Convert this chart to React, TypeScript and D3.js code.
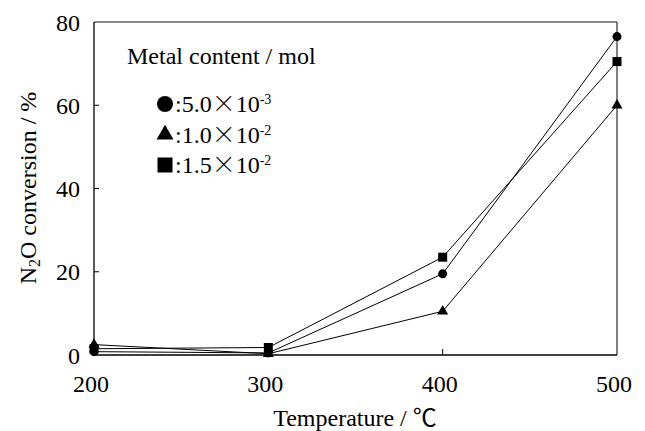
import React from "react";
import * as d3 from "d3";

// temperatures (°C) and N2O conversion (%)
const temperatures = [200, 300, 400, 500];
const circleSeries = [0.8, 0.5, 19.5, 76.5]; // 5.0×10-3 mol
const triangleSeries = [2.5, 0.3, 10.5, 60]; // 1.0×10-2 mol
const squareSeries = [1.5, 1.8, 23.5, 70.5]; // 1.5×10-2 mol
const xTicks = [200, 300, 400, 500];
const yTicks = [0, 20, 40, 60, 80];
const legendLabels = [
  { mark: "circle", mant: "5.0", exp: "-3" },
  { mark: "triangle", mant: "1.0", exp: "-2" },
  { mark: "square", mant: "1.5", exp: "-2" },
];

const W = 645;
const H = 431;
const margin = { top: 22, right: 28, bottom: 76, left: 94 };
const FONT = '"Liberation Serif", "Times New Roman", "DejaVu Serif", serif';
const CJK = '"Noto Sans CJK JP", "Noto Sans CJK SC", sans-serif';

const App = () => {
  const x = d3
    .scaleLinear()
    .domain([200, 500])
    .range([margin.left, W - margin.right]);
  const y = d3
    .scaleLinear()
    .domain([0, 80])
    .range([H - margin.bottom, margin.top]);

  const line = d3
    .line<number>()
    .x((_, i) => x(temperatures[i]))
    .y((d) => y(d));

  const series = [
    { name: "circle", values: circleSeries },
    { name: "triangle", values: triangleSeries },
    { name: "square", values: squareSeries },
  ];

  const marker = (kind: string, cx: number, cy: number, s: number, key: any) => {
    if (kind === "circle") return <circle key={key} cx={cx} cy={cy} r={s / 2} fill="#000" />;
    if (kind === "square")
      return <rect key={key} x={cx - s / 2} y={cy - s / 2} width={s} height={s} fill="#000" />;
    const h = (s * Math.sqrt(3)) / 2;
    return (
      <path
        key={key}
        d={`M${cx},${cy - (2 * h) / 3}L${cx + s / 2},${cy + h / 3}L${cx - s / 2},${cy + h / 3}Z`}
        fill="#000"
      />
    );
  };

  const x0 = x(200);
  const x1 = x(500);
  const y0 = y(0);
  const y1 = y(80);

  return (
    <svg
      width={W}
      height={H}
      style={{ position: "absolute", left: 0, top: 0, background: "#fff", fontFamily: FONT }}
    >
      {/* frame */}
      <line x1={x0} x2={x1} y1={y1} y2={y1} stroke="#666" strokeWidth={1.5} />
      <line x1={x1} x2={x1} y1={y1} y2={y0} stroke="#000" strokeWidth={1} />
      <line x1={x0} x2={x0} y1={y1} y2={y0} stroke="#000" strokeWidth={1.3} />
      <line x1={x0} x2={x1} y1={y0} y2={y0} stroke="#000" strokeWidth={1.5} />

      {/* y ticks */}
      {yTicks.map((t) => (
        <g key={"y" + t}>
          {t > 0 && t < 80 && (
            <line x1={x0} x2={x0 + 5} y1={y(t)} y2={y(t)} stroke="#000" strokeWidth={1} />
          )}
          <text x={x0 - 14} y={y(t) + 8.5} textAnchor="end" fontSize={24}>
            {t}
          </text>
        </g>
      ))}

      {/* x ticks */}
      {xTicks.map((t) => (
        <g key={"x" + t}>
          {t > 200 && t < 500 && (
            <line x1={x(t)} x2={x(t)} y1={y0} y2={y0 - 6} stroke="#000" strokeWidth={1} />
          )}
          <text x={x(t) - 3} y={y0 + 37} textAnchor="middle" fontSize={24}>
            {t}
          </text>
        </g>
      ))}

      {/* axis titles */}
      <text x={355} y={426} textAnchor="middle" fontSize={24}>
        Temperature / <tspan style={{ fontFamily: CJK }}>℃</tspan>
      </text>
      <text transform="translate(36,188) rotate(-90)" textAnchor="middle" fontSize={24}>
        N<tspan fontSize={16} dy={4}>2</tspan>
        <tspan dy={-4}>O conversion / %</tspan>
      </text>

      {/* series lines */}
      {series.map((s) => (
        <path key={s.name} d={line(s.values) || ""} fill="none" stroke="#000" strokeWidth={1} />
      ))}
      {series.map((s) =>
        s.values.map((v, i) =>
          marker(s.name, x(temperatures[i]), y(v), s.name === "triangle" ? 11 : 9, s.name + i)
        )
      )}

      {/* legend */}
      <text x={127} y={64} fontSize={24}>
        Metal content / mol
      </text>
      {legendLabels.map((l, i) => {
        const by = 112 + i * 30.5;
        return (
          <g key={l.mark}>
            {marker(l.mark, 165, by - 8, l.mark === "triangle" ? 17 : l.mark === "circle" ? 16 : 15, "lm" + i)}
            <text x={175} y={by} fontSize={24}>
              :{l.mant}
              <tspan style={{ fontFamily: CJK }} fontWeight={300}>×</tspan>
              10
              <tspan fontSize={14} dy={-8}>
                {l.exp}
              </tspan>
            </text>
          </g>
        );
      })}
    </svg>
  );
};

export default App;
